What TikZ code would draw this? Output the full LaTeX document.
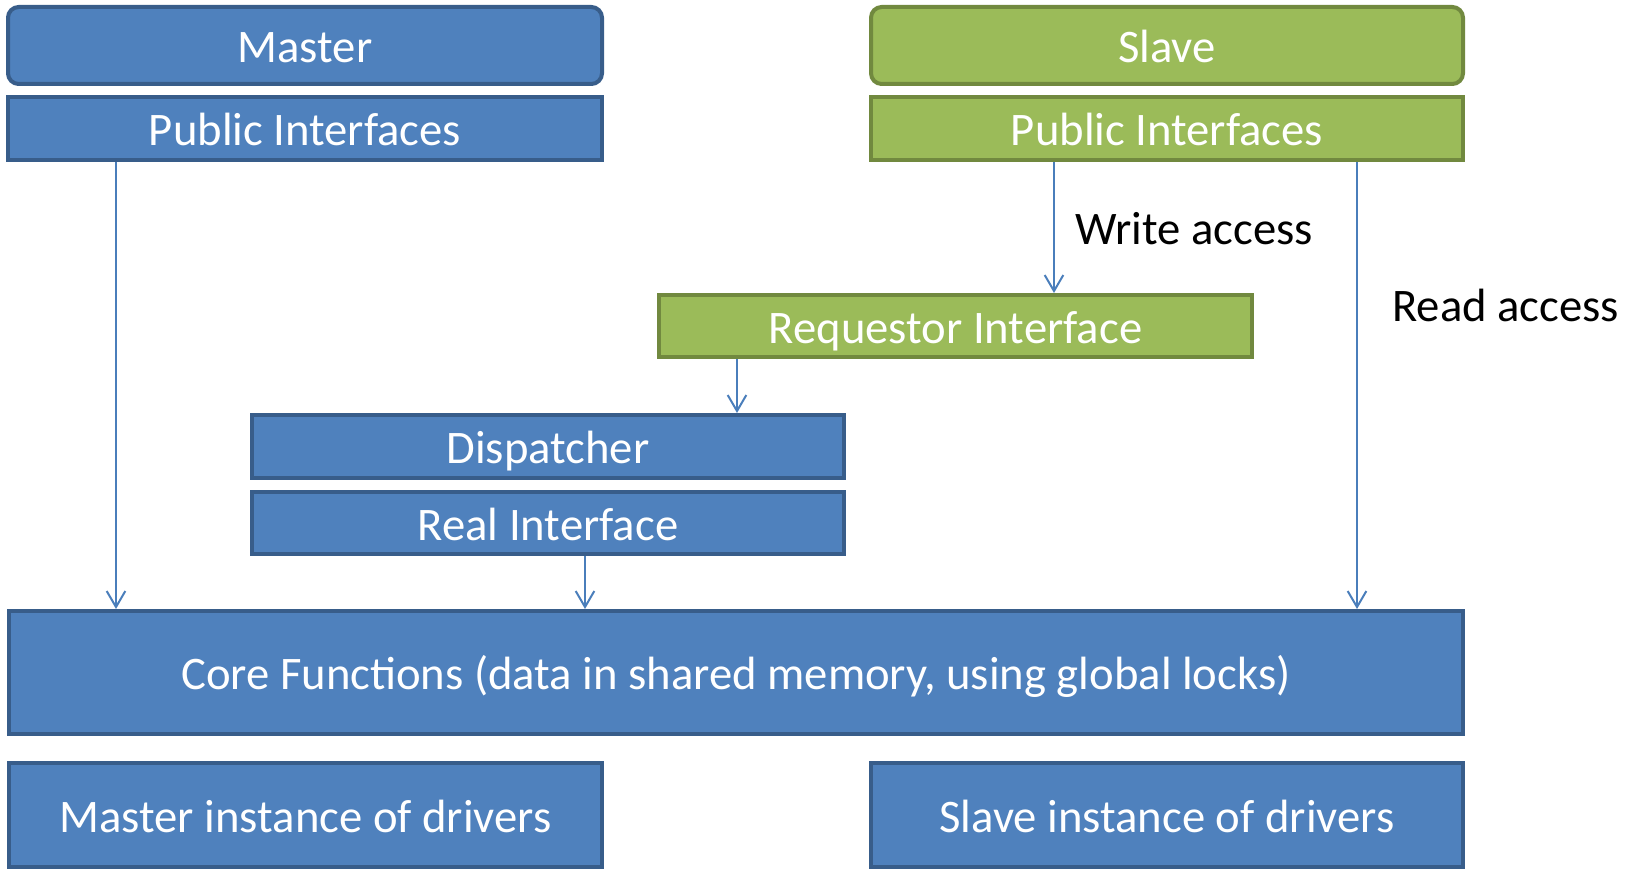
\documentclass[tikz,border=0pt]{standalone}
\usepackage{fontspec}
\setmainfont{Carlito}
\usetikzlibrary{arrows.meta}
\definecolor{bfill}{HTML}{4F81BD}
\definecolor{bline}{HTML}{385D8A}
\definecolor{gfill}{HTML}{9BBB59}
\definecolor{gline}{HTML}{71893F}
\definecolor{aline}{HTML}{4A7EBB}
\tikzset{
  bbox/.style={draw=bline, fill=bfill, line width=3pt, text=white, inner sep=0pt,
    text height=26pt, text depth=0pt, font=\fontsize{35}{42}\selectfont},
  gbox/.style={draw=gline, fill=gfill, line width=3pt, text=white, inner sep=0pt,
    text height=26pt, text depth=0pt, font=\fontsize{35}{42}\selectfont},
  lbl/.style={text=black, inner sep=0pt, anchor=west, font=\fontsize{35}{42}\selectfont},
  conn/.style={draw=aline, line width=1.5pt, -{Straight Barb[length=12pt,width=14pt,line width=1.5pt]}},
}
\begin{document}
\begin{tikzpicture}[x=0.75pt,y=-0.75pt]
\useasboundingbox (0,0) rectangle (1644,870);
\node[bbox, rounded corners=8pt, minimum width=445.5pt, minimum height=57.75pt] (master) at (305,45.5) {Master};
\node[bbox, minimum width=445.5pt, minimum height=47.25pt] (mpi) at (305,128.5) {Public Interfaces};
\node[gbox, rounded corners=8pt, minimum width=444pt, minimum height=57.75pt] (slave) at (1167,45.5) {Slave};
\node[gbox, minimum width=444pt, minimum height=47.25pt] (spi) at (1167,128.5) {Public Interfaces};
\node[gbox, minimum width=444.75pt, minimum height=46.5pt] (req) at (955.5,326) {Requestor Interface};
\node[bbox, minimum width=444pt, minimum height=47.25pt] (disp) at (548,446.5) {Dispatcher};
\node[bbox, minimum width=444pt, minimum height=46.5pt] (real) at (548,523) {Real Interface};
\node[bbox, minimum width=1090.5pt, minimum height=92.25pt] (core) at (736,672.5) {Core Functions (data in shared memory, using global locks)};
\node[bbox, minimum width=444.75pt, minimum height=78pt] (minst) at (305.5,815) {Master instance of drivers};
\node[bbox, minimum width=444pt, minimum height=78pt] (sinst) at (1167,815) {Slave instance of drivers};
\node[lbl] (wlbl) at (1075,229) {Write access};
\node[lbl] (rlbl) at (1392,305) {Read access};
\coordinate (xa) at (116,0);
\coordinate (xw) at (1054,0);
\coordinate (xr) at (1357,0);
\coordinate (xq) at (737,0);
\coordinate (xc) at (585,0);
\draw[conn] (mpi.south -| xa) -- (core.north -| xa);
\draw[conn] (spi.south -| xw) -- (req.north -| xw);
\draw[conn] (spi.south -| xr) -- (core.north -| xr);
\draw[conn] (req.south -| xq) -- (disp.north -| xq);
\draw[conn] (real.south -| xc) -- (core.north -| xc);
\end{tikzpicture}
\end{document}
